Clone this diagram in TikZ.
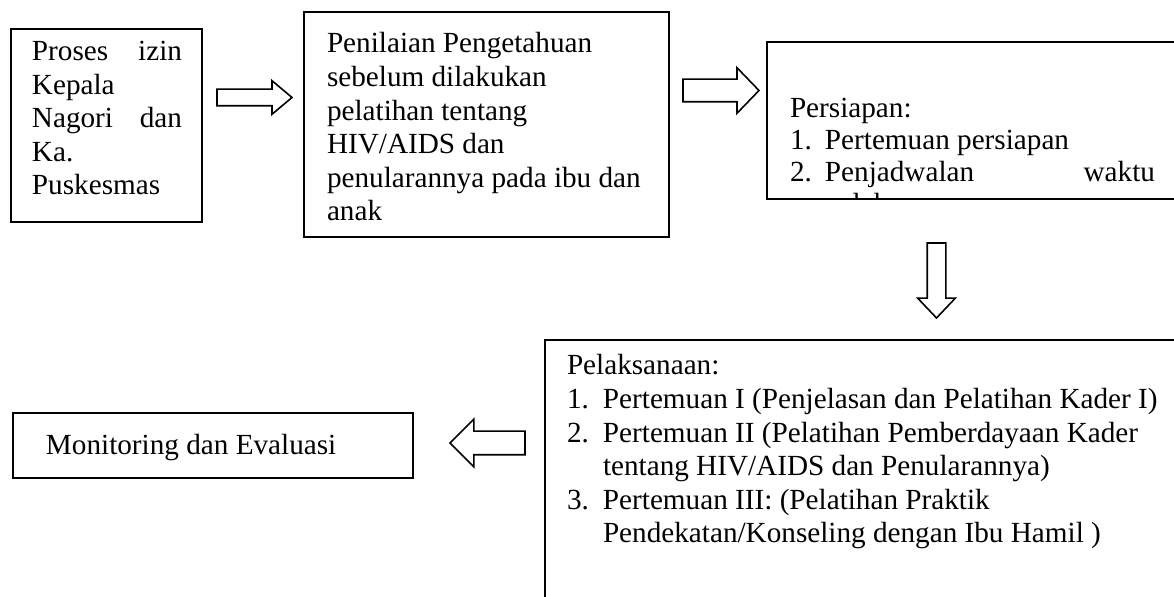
\documentclass[tikz,border=0pt]{standalone}
\usepackage{fontspec}
\setmainfont{Liberation Serif}
\usetikzlibrary{shapes.arrows}
\begin{document}
\begin{tikzpicture}[x=0.5pt,y=-0.5pt,
  box/.style={draw, line width=1pt, rectangle, inner sep=0pt, outer sep=0pt, anchor=north west},
  txt/.style={anchor=north west, inner sep=0pt, outer sep=0pt, align=left, font=\fontsize{14.6}{16.8}\selectfont},
  barrow/.style={draw, line width=0.8pt, single arrow, inner xsep=0pt, outer sep=0pt, anchor=tail}
]
\useasboundingbox (0,0) rectangle (1174,597);

% boxes
\node[box, minimum width=95.5pt, minimum height=96.5pt] (b1) at (11,29) {};
\node[box, minimum width=182.5pt, minimum height=112.5pt] (b2) at (304,12) {};
\node[box, minimum width=210pt, minimum height=78.5pt] (b3) at (767,42) {};
\node[box, minimum width=320pt, minimum height=135pt] (b4) at (545,340) {};
\node[box, minimum width=200pt, minimum height=32.5pt] (b5) at (13,413) {};

% texts
\node[txt] (t1) at (32,38.5) {\rule{0pt}{11pt}\makebox[75pt][s]{Proses izin}\\Kepala\\\makebox[75pt][s]{Nagori dan}\\Ka.\\Puskesmas};
\node[txt] (t2) at (327,31) {\rule{0pt}{11pt}Penilaian Pengetahuan\\sebelum dilakukan\\pelatihan tentang\\HIV/AIDS dan\\penularannya pada ibu dan\\anak};
\begin{scope}
\clip (b3.north west) rectangle ([yshift=0.5pt]b3.south east);
\node[txt, font=\fontsize{14.6}{16}\selectfont] (t3) at (790,96) {\rule{0pt}{11pt}Persiapan:\\\makebox[17.5pt][l]{1.}Pertemuan persiapan\\\makebox[17.5pt][l]{2.}\makebox[165pt][s]{Penjadwalan waktu}\\\hspace*{17.5pt}pelaksanaan};
\end{scope}
\node[txt] (t4) at (567,353) {\rule{0pt}{11pt}Pelaksanaan:\\\makebox[18pt][l]{1.}Pertemuan I (Penjelasan dan Pelatihan Kader I)\\\makebox[18pt][l]{2.}Pertemuan II (Pelatihan Pemberdayaan Kader\\\hspace*{18pt}tentang HIV/AIDS dan Penularannya)\\\makebox[18pt][l]{3.}Pertemuan III: (Pelatihan Praktik\\\hspace*{18pt}Pendekatan/Konseling dengan Ibu Hamil )};
\node[txt] (t5) at (46,433) {\rule{0pt}{11pt}Monitoring dan Evaluasi};

% block arrows
\node[barrow, minimum height=37.5pt, inner ysep=3.75pt, single arrow head extend=4.25pt, single arrow tip angle=80] (a1) at (217,97.5) {};
\node[barrow, minimum height=38pt, inner ysep=5.25pt, single arrow head extend=5.75pt, single arrow tip angle=92] (a2) at (683,90.5) {};
\node[barrow, rotate=-90, minimum height=37.5pt, inner ysep=4.25pt, single arrow head extend=4.75pt, single arrow tip angle=87] (a3) at (936.5,243) {};
\node[barrow, rotate=180, minimum height=37.5pt, inner ysep=5.5pt, single arrow head extend=6pt, single arrow tip angle=90] (a4) at (525,443) {};
\end{tikzpicture}
\end{document}
